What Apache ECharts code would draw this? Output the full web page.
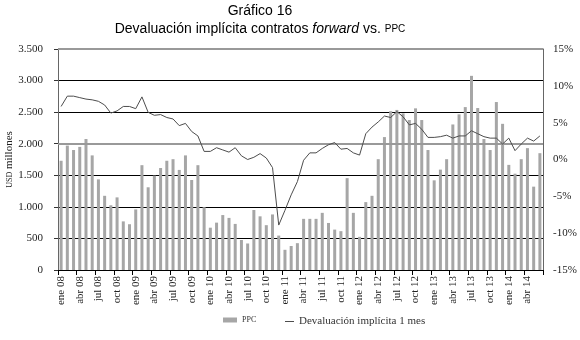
<!DOCTYPE html>
<html>
<head>
<meta charset="utf-8">
<script src="https://cdn.jsdelivr.net/npm/echarts@6/dist/echarts.min.js"></script>
<style>html,body{margin:0;padding:0;background:#fff;}#c{width:580px;height:340px;}</style>
</head>
<body>
<div id="c"></div>
<script>
const monthNames = ['ene','feb','mar','abr','may','jun','jul','ago','sep','oct','nov','dic'];
const years = ['08','09','10','11','12','13','14'];
const lastMonthIndex = 5; // jun 14
const categories = [];
years.forEach(function (y, yi) {
  monthNames.forEach(function (m, mi) {
    if (yi === years.length - 1 && mi > lastMonthIndex) return;
    categories.push(m + ' ' + y);
  });
});

const ppc = [
  1730, 1970, 1900, 1950, 2075, 1815, 1435, 1175, 1025, 1150, 770, 725,
  960, 1660, 1310, 1495, 1615, 1730, 1755, 1585, 1815, 1425, 1660, 995,
  670, 750, 870, 825, 730, 475, 420, 950, 850, 710, 880, 545,
  320, 380, 425, 810, 810, 810, 905, 745, 640, 615, 1455, 905,
  525, 1075, 1175, 1755, 2105, 2515, 2535, 2480, 2375, 2560, 2375, 1900,
  1420, 1590, 1755, 2305, 2465, 2580, 3075, 2565, 2075, 1900, 2660, 2315,
  1665, 1525, 1755, 1930, 1320, 1850
];

const devaluacion = [
  7.2, 8.6, 8.6, 8.4, 8.2, 8.1, 7.9, 7.4, 6.3, 6.6, 7.2, 7.2,
  6.9, 8.5, 6.4, 6.0, 6.1, 5.7, 5.5, 4.6, 4.9, 3.8, 3.2, 1.1,
  1.1, 1.6, 1.3, 1.0, 1.6, 0.5, 0.0, 0.3, 0.8, 0.2, -1.1, -8.9,
  -6.9, -4.8, -3.0, -0.1, 0.9, 0.9, 1.5, 2.0, 2.3, 1.4, 1.5, 0.9,
  0.6, 3.5, 4.4, 5.1, 5.9, 5.7, 6.5, 5.8, 4.7, 4.9, 4.1, 3.0,
  3.0, 3.1, 3.3, 2.9, 3.2, 3.2, 3.9, 3.5, 3.1, 2.9, 2.9, 2.1,
  2.9, 1.2, 2.1, 2.9, 2.5, 3.2
];

const leftTicks = { min: 0, max: 3500, interval: 500 };
const rightTicks = { min: -15, max: 15, interval: 5 };
const greyLines = [2000, 3500];

const serif = '"Liberation Serif", "DejaVu Serif", serif';
const sans = '"Liberation Sans", Arial, sans-serif';

function fmtThousands(v) {
  if (v >= 1000) {
    return Math.floor(v / 1000) + '.' + String(v % 1000).padStart(3, '0');
  }
  return String(v);
}

const chart = echarts.init(document.getElementById('c'), null, { renderer: 'canvas' });
chart.setOption({
  animation: false,
  backgroundColor: '#ffffff',
  graphic: [
    {
      type: 'text', x: 260, y: 11,
      style: { text: 'Gráfico 16', font: '14px ' + sans, fill: '#000', align: 'center', verticalAlign: 'middle' }
    },
    {
      type: 'text', x: 260, y: 29,
      style: {
        text: '{n|Devaluación implícita contratos }{i|forward}{n| vs. }{s|PPC}',
        align: 'center', verticalAlign: 'middle',
        rich: {
          n: { fontFamily: sans, fontSize: 14, fill: '#000' },
          i: { fontFamily: sans, fontSize: 14, fontStyle: 'italic', fill: '#000' },
          s: { fontFamily: sans, fontSize: 10, fill: '#000' }
        }
      }
    }
  ],
  grid: { left: 58, right: 37, top: 49, bottom: 70, containLabel: false, outerBoundsMode: 'none' },
  legend: [
    {
      data: ['PPC'], left: 218, top: 311, icon: 'rect', itemWidth: 14, itemHeight: 5, itemGap: 4,
      textStyle: { fontFamily: serif, fontSize: 8, color: '#333' }
    },
    {
      data: ['Devaluación implícita 1 mes'], left: 280, top: 311, icon: 'rect', itemWidth: 9, itemHeight: 1,
      textStyle: { fontFamily: serif, fontSize: 11, color: '#333' }
    }
  ],
  xAxis: {
    type: 'category',
    data: categories,
    boundaryGap: true,
    axisLine: { lineStyle: { color: '#000', width: 1 } },
    axisTick: { show: true, interval: 2, length: 5, lineStyle: { color: '#000' } },
    axisLabel: { interval: 2, rotate: 90, margin: 6, fontFamily: serif, fontSize: 11, color: '#222' },
    splitLine: { show: false }
  },
  yAxis: [
    {
      type: 'value',
      min: leftTicks.min, max: leftTicks.max, interval: leftTicks.interval,
      name: '{sc|USD} millones',
      nameLocation: 'middle', nameGap: 43, nameMoveOverlap: false,
      nameTextStyle: { fontFamily: serif, fontSize: 11, color: '#222', rich: { sc: { fontFamily: serif, fontSize: 8, color: '#222' } } },
      axisLine: { show: true, lineStyle: { color: '#666', width: 1 } },
      axisTick: { show: true, length: 4, lineStyle: { color: '#333' } },
      axisLabel: { margin: 15, fontFamily: serif, fontSize: 11, color: '#222', formatter: fmtThousands },
      splitLine: { show: true, lineStyle: { color: '#000', width: 1 } }
    },
    {
      type: 'value',
      min: rightTicks.min, max: rightTicks.max, interval: rightTicks.interval,
      position: 'right',
      axisLine: { show: true, lineStyle: { color: '#666', width: 1 } },
      axisTick: { show: false },
      axisLabel: { margin: 10, fontFamily: serif, fontSize: 11, color: '#222', formatter: function (v) { return v + '%'; } },
      splitLine: { show: false }
    }
  ],
  series: [
    {
      name: 'PPC', type: 'bar', yAxisIndex: 0, data: ppc,
      barWidth: 3, itemStyle: { color: '#a6a6a6' },
      markLine: {
        silent: true, symbol: 'none', label: { show: false },
        lineStyle: { color: '#999999', width: 2, type: 'solid' },
        data: greyLines.map(function (v) { return { yAxis: v }; })
      }
    },
    {
      name: 'Devaluación implícita 1 mes', type: 'line', yAxisIndex: 1, data: devaluacion,
      showSymbol: false, symbol: 'none',
      lineStyle: { color: '#4d4d4d', width: 1 }, itemStyle: { color: '#4d4d4d' }, z: 5
    }
  ]
});
</script>
</body>
</html>
